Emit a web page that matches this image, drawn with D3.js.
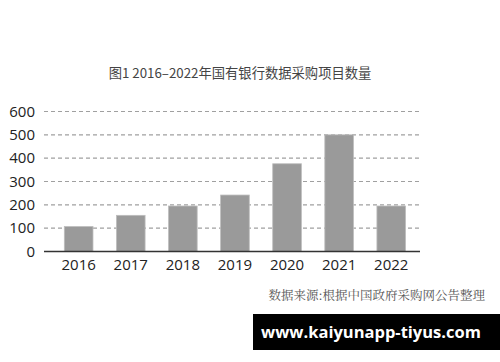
<!DOCTYPE html>
<html><head><meta charset="utf-8">
<script src="https://cdn.jsdelivr.net/npm/d3@7"></script>
<style>html,body{margin:0;padding:0;background:#fff;}svg{display:block;}</style>
</head><body>
<svg id="chart" width="500" height="362"></svg>
<script>
const years = ["2016","2017","2018","2019","2020","2021","2022"];
const counts = [107, 155, 195, 242, 376, 500, 195];
const yTicks = [0, 100, 200, 300, 400, 500, 600];
const titleText = "图1 2016–2022年国有银行数据采购项目数量";
const sourceText = "数据来源:根据中国政府采购网公告整理";
const watermarkText = "www.kaiyunapp-tiyus.com";

const svg = d3.select("#chart");
const x = d3.scaleBand().domain(years).range([52.6, 417.3]).paddingInner(0.45).paddingOuter(0.225);
const y = d3.scaleLinear().domain([0, 600]).range([251.5, 111.5]);

svg.append("text").attr("x", 240).attr("y", 77.5).attr("text-anchor", "middle")
  .attr("font-family", "'Noto Sans CJK SC', sans-serif").attr("font-size", 13.3)
  .attr("fill", "#444").text(titleText);

// gridlines
svg.append("g").selectAll("line").data(yTicks.filter(d => d > 0)).join("line")
  .attr("x1", 44).attr("x2", 420).attr("y1", d => y(d)).attr("y2", d => y(d))
  .attr("stroke", "#a0a0a0").attr("stroke-width", 1.2).attr("stroke-dasharray", "4,3");

// bars
svg.append("g").selectAll("rect").data(years).join("rect")
  .attr("x", d => x(d)).attr("width", x.bandwidth())
  .attr("y", (d, i) => y(counts[i])).attr("height", (d, i) => y(0) - y(counts[i]))
  .attr("fill", "#9a9a9a").attr("stroke", "#bdbdbd").attr("stroke-width", 0.8);

// baseline
svg.append("line").attr("x1", 44).attr("x2", 420).attr("y1", y(0)).attr("y2", y(0))
  .attr("stroke", "#333").attr("stroke-width", 1.5);

// y axis labels
const yAxis = d3.axisLeft(y).tickValues(yTicks).tickSize(0).tickPadding(0);
const gy = svg.append("g").attr("transform", "translate(35,0)").call(yAxis);
gy.select(".domain").remove();
gy.selectAll("text").attr("font-family", "'Open Sans', 'DejaVu Sans', sans-serif")
  .attr("font-size", 15).attr("fill", "#222");

// x axis labels
const xAxis = d3.axisBottom(x).tickSize(0).tickPadding(0);
const gx = svg.append("g").attr("transform", `translate(0,${y(0) + 8})`).call(xAxis);
gx.select(".domain").remove();
gx.selectAll("text").attr("font-family", "'Open Sans', 'DejaVu Sans', sans-serif")
  .attr("font-size", 15).attr("fill", "#222");

// source
svg.append("text").attr("x", 485).attr("y", 300).attr("text-anchor", "end")
  .attr("font-family", "'Noto Serif CJK SC', 'Noto Sans CJK SC', serif").attr("font-size", 12.5)
  .attr("fill", "#555").text(sourceText);

// watermark
svg.append("rect").attr("x", 253).attr("y", 314).attr("width", 247).attr("height", 36).attr("fill", "#000");
svg.append("text").attr("x", 371).attr("y", 338).attr("text-anchor", "middle")
  .attr("font-family", "'Open Sans', 'DejaVu Sans', sans-serif").attr("font-weight", "bold")
  .attr("font-size", 16.5).attr("fill", "#fff").text(watermarkText);
</script>
</body></html>
